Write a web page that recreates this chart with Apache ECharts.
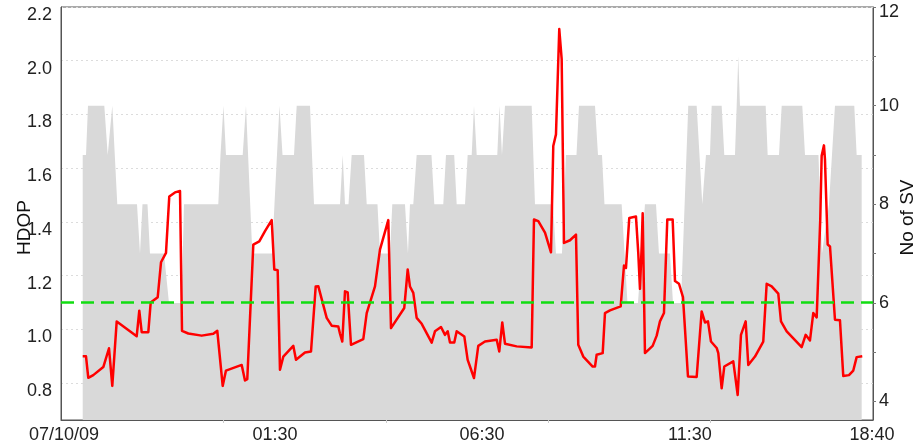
<!DOCTYPE html>
<html>
<head>
<meta charset="utf-8">
<title>HDOP / No of SV</title>
<script src="https://cdn.jsdelivr.net/npm/echarts@6/dist/echarts.min.js"></script>
<style>
  html, body { margin: 0; padding: 0; background: #fff; }
  #chart { width: 914px; height: 446px; }
</style>
</head>
<body>
<div id="chart"></div>
<script>
// Time axis: hours elapsed since the start of the plotted window
const X_MAX = 19.52;
const xTickHours = [0.07, 5.144, 10.12, 15.12, 19.495];
const xTickLabels = ['07/10/09', '01:30', '06:30', '11:30', '18:40'];
const xMinorTicks = [3.904, 7.808, 11.712, 15.616];

// HDOP axis (left)
const hdopMin = 0.663;
const hdopMax = 2.2;
const hdopTicks = [0.8, 1.0, 1.2, 1.4, 1.6, 1.8, 2.0, 2.2];
const HDOP_LIMIT = 1.1;

// Satellite count axis (right)
const svMin = 3.625;
const svMax = 12;
const svLabelTicks = [4, 6, 8, 10, 12];
const svTicks = [4, 5, 6, 7, 8, 9, 10, 11, 12];

// Number of satellites in view
const svTime = [
  0.522, 0.601, 0.649, 1.041, 1.123, 1.161, 1.233, 1.353, 1.827, 1.899,
  1.959, 2.079, 2.139, 2.476, 2.596, 2.897, 2.957, 3.781, 3.834, 3.906,
  3.966, 4.368, 4.447, 4.599, 5.072, 5.132, 5.252, 5.325, 5.601, 5.666,
  5.986, 6.082, 6.707, 6.772, 6.827, 6.911, 6.988, 7.284, 7.349, 7.608,
  7.668, 7.909, 7.964, 8.269, 8.341, 8.389, 8.469, 8.550, 8.906, 8.974,
  9.190, 9.255, 9.452, 9.512, 9.712, 9.776, 9.873, 9.928, 9.993, 10.488,
  10.541, 10.601, 10.673, 11.315, 11.394, 11.827, 11.899, 12.043, 12.139, 12.392,
  12.452, 12.837, 12.909, 13.005, 13.065, 13.478, 13.618, 13.870, 14.038, 14.303,
  14.375, 14.639, 14.712, 14.904, 15.079, 15.281, 15.416, 15.505, 15.601, 15.642,
  15.882, 15.945, 16.202, 16.243, 16.281, 16.322, 16.940, 16.988, 17.260, 17.325,
  17.820, 17.885, 18.209, 18.293, 18.462, 18.606, 19.070, 19.127, 19.248
];
const svCount = [
  9, 9, 10, 10, 9, 9, 10, 8, 8, 7,
  8, 8, 7, 7, 6, 6, 8, 8, 9, 10,
  9, 9, 10, 7, 7, 8, 10, 9, 9, 10,
  10, 8, 8, 9, 8, 8, 9, 9, 8, 8,
  7, 7, 8, 8, 7, 8, 8, 9, 9, 8,
  8, 9, 9, 8, 8, 9, 9, 10, 9, 9,
  10, 9, 10, 10, 8, 8, 7, 7, 9, 9,
  10, 10, 9, 9, 8, 8, 6, 6, 8, 8,
  7, 7, 6, 6, 10, 10, 8, 9, 9, 10,
  10, 9, 9, 10, 11, 10, 10, 9, 9, 10,
  10, 9, 9, 7, 8, 10, 10, 9, 9
];

// Horizontal dilution of precision
const hdopTime = [
  0.522, 0.601, 0.656, 0.776, 1.017, 1.154, 1.233, 1.339, 1.820, 1.882,
  1.940, 2.099, 2.156, 2.325, 2.404, 2.524, 2.603, 2.740, 2.861, 2.909,
  3.060, 3.382, 3.661, 3.757, 3.887, 3.966, 4.344, 4.423, 4.478, 4.623,
  4.767, 4.904, 5.065, 5.127, 5.209, 5.264, 5.344, 5.584, 5.649, 5.865,
  6.010, 6.123, 6.185, 6.387, 6.507, 6.666, 6.707, 6.762, 6.827, 6.892,
  6.971, 7.267, 7.349, 7.548, 7.668, 7.868, 7.933, 8.252, 8.334, 8.389,
  8.469, 8.550, 8.671, 8.911, 8.990, 9.135, 9.231, 9.296, 9.351, 9.454,
  9.512, 9.695, 9.776, 9.832, 9.928, 10.031, 10.192, 10.474, 10.536, 10.608,
  10.673, 10.954, 11.315, 11.370, 11.474, 11.635, 11.779, 11.834, 11.899, 11.978,
  12.036, 12.091, 12.236, 12.380, 12.435, 12.555, 12.781, 12.837, 12.877, 13.022,
  13.077, 13.197, 13.454, 13.534, 13.582, 13.661, 13.822, 13.877, 13.918, 13.959,
  13.983, 14.038, 14.223, 14.320, 14.399, 14.495, 14.575, 14.704, 14.760, 14.856,
  14.952, 15.072, 15.281, 15.401, 15.481, 15.553, 15.625, 15.762, 15.801, 15.882,
  15.945, 16.161, 16.202, 16.267, 16.346, 16.459, 16.522, 16.683, 16.882, 16.964,
  17.084, 17.243, 17.308, 17.445, 17.805, 17.901, 18.005, 18.084, 18.166, 18.209,
  18.252, 18.286, 18.341, 18.365, 18.430, 18.486, 18.606, 18.726, 18.805, 18.942,
  19.046, 19.127, 19.262
];
const hdopValue = [
  0.90, 0.90, 0.82, 0.83, 0.86, 0.93, 0.79, 1.03, 0.975, 1.07,
  0.99, 0.99, 1.10, 1.12, 1.25, 1.285, 1.495, 1.51, 1.515, 0.995,
  0.985, 0.977, 0.984, 0.995, 0.79, 0.847, 0.868, 0.81, 0.815, 1.316,
  1.328, 1.366, 1.407, 1.223, 1.220, 0.850, 0.899, 0.939, 0.887, 0.914,
  0.918, 1.160, 1.161, 1.043, 1.014, 1.011, 0.984, 0.955, 1.142, 1.138,
  0.943, 0.964, 1.061, 1.160, 1.297, 1.407, 1.005, 1.080, 1.223, 1.160,
  1.136, 1.043, 1.021, 0.951, 0.993, 1.009, 0.980, 0.993, 0.951, 0.951,
  0.993, 0.974, 0.887, 0.862, 0.819, 0.939, 0.955, 0.962, 0.918, 1.026,
  0.947, 0.937, 0.933, 1.409, 1.403, 1.360, 1.287, 1.683, 1.726, 2.118,
  2.006, 1.322, 1.332, 1.353, 0.943, 0.899, 0.862, 0.862, 0.906, 0.912,
  1.061, 1.071, 1.086, 1.238, 1.229, 1.415, 1.420, 1.285, 1.151, 1.310,
  1.432, 0.912, 0.939, 0.977, 1.030, 1.061, 1.409, 1.409, 1.180, 1.170,
  1.120, 0.825, 0.823, 1.067, 1.026, 1.030, 0.955, 0.931, 0.912, 0.781,
  0.862, 0.881, 0.875, 0.756, 0.980, 1.030, 0.868, 0.899, 0.955, 1.170,
  1.160, 1.133, 1.030, 0.993, 0.934, 0.980, 0.959, 1.061, 1.045, 1.045,
  1.409, 1.646, 1.685, 1.633, 1.316, 1.309, 1.036, 1.034, 0.827, 0.830,
  0.847, 0.897, 0.900
];

const svData = svTime.map((t, i) => [t, svCount[i]]);
const hdopData = hdopTime.map((t, i) => [t, hdopValue[i]]);

const FRAME = '#555555';
const TICK_FONT = { fontFamily: "'Liberation Sans', Arial, sans-serif", fontSize: 18, color: '#222' };
const NAME_FONT = "'Liberation Sans Narrow', 'Arial Narrow', 'Liberation Sans', sans-serif";

const chart = echarts.init(document.getElementById('chart'), null, { renderer: 'canvas' });

chart.setOption({
  animation: false,
  backgroundColor: '#ffffff',
  grid: {
    left: 61, right: 41, top: 7, bottom: 26,
    show: true, borderColor: FRAME, borderWidth: 1,
    containLabel: false, outerBoundsMode: 'none'
  },
  xAxis: {
    type: 'value',
    min: 0, max: X_MAX,
    axisLine: { show: true, lineStyle: { color: FRAME, width: 1 } },
    axisTick: { show: true, customValues: xMinorTicks, length: 3, lineStyle: { color: '#cccccc' } },
    splitLine: { show: false },
    axisLabel: {
      ...TICK_FONT,
      customValues: xTickHours,
      margin: 6,
      formatter: (v) => {
        const i = xTickHours.findIndex((h) => Math.abs(h - v) < 1e-6);
        return i >= 0 ? xTickLabels[i] : '';
      }
    }
  },
  yAxis: [
    {
      type: 'value',
      position: 'left',
      min: hdopMin, max: hdopMax,
      name: 'HDOP',
      nameLocation: 'middle',
      nameRotate: 90,
      nameGap: 27,
      nameMoveOverlap: false,
      nameTextStyle: { fontFamily: NAME_FONT, fontSize: 19, color: '#111', padding: [0, 28, 0, 0] },
      axisLine: { show: true, lineStyle: { color: FRAME, width: 1 } },
      axisTick: { show: false, customValues: hdopTicks },
      axisLabel: {
        ...TICK_FONT,
        customValues: hdopTicks,
        margin: 9,
        verticalAlign: 'top',
        lineHeight: 16,
        formatter: (v) => v.toFixed(1)
      },
      splitLine: { show: true, lineStyle: { color: '#dcdcdc', type: [2, 3], width: 1 } }
    },
    {
      type: 'value',
      position: 'right',
      min: svMin, max: svMax,
      name: 'No of SV',
      nameLocation: 'middle',
      nameRotate: 90,
      nameGap: 25,
      nameMoveOverlap: false,
      nameTextStyle: { fontFamily: NAME_FONT, fontSize: 19, color: '#111', padding: [0, 8, 0, 0] },
      axisLine: { show: true, lineStyle: { color: FRAME, width: 1 } },
      axisTick: { show: true, customValues: svTicks, length: 3, lineStyle: { color: '#777' } },
      axisLabel: {
        ...TICK_FONT,
        customValues: svLabelTicks,
        margin: 6,
        formatter: (v) => (v === svMax ? '{top|' + v + '}' : String(v)),
        rich: { top: { ...TICK_FONT, padding: [10, 0, 0, 0] } }
      },
      splitLine: { show: false }
    }
  ],
  series: [
    {
      name: 'No of SV',
      type: 'line',
      yAxisIndex: 1,
      data: svData,
      showSymbol: false,
      symbol: 'none',
      lineStyle: { width: 0 },
      areaStyle: { color: '#d9d9d9', opacity: 1 },
      z: 1
    },
    {
      name: 'HDOP',
      type: 'line',
      yAxisIndex: 0,
      data: hdopData,
      showSymbol: false,
      symbol: 'none',
      lineStyle: { color: '#ff0000', width: 2.5, join: 'round' },
      z: 3,
      markLine: {
        silent: true,
        symbol: 'none',
        label: { show: false },
        lineStyle: { color: '#11dd11', type: [13, 7], width: 2.5 },
        data: [{ yAxis: HDOP_LIMIT }]
      }
    }
  ]
});
</script>
</body>
</html>
